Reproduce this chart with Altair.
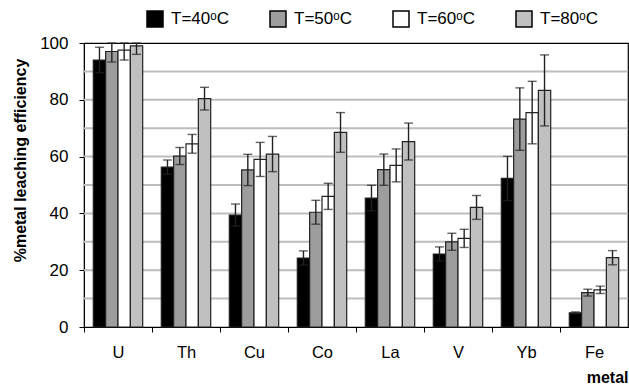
import altair as alt
import pandas as pd

metals = ["U", "Th", "Cu", "Co", "La", "V", "Yb", "Fe"]
temps = ["T=40ᵒC", "T=50ᵒC", "T=60ᵒC", "T=80ᵒC"]
colors = ["#000000", "#9d9d9d", "#ffffff", "#c0c0c0"]

t40 = [94.0, 56.3, 39.4, 24.3, 45.4, 25.7, 52.3, 5.0]
t50 = [97.0, 60.2, 55.3, 40.4, 55.4, 30.0, 73.2, 12.1]
t60 = [97.5, 64.5, 59.0, 46.0, 56.9, 31.2, 75.5, 13.1]
t80 = [99.0, 80.4, 60.9, 68.5, 65.3, 42.1, 83.3, 24.4]

e40 = [4.5, 2.5, 3.9, 2.5, 4.5, 2.5, 7.8, 0.3]
e50 = [3.7, 3.0, 5.5, 4.2, 5.5, 3.0, 11.0, 1.2]
e60 = [3.5, 3.3, 6.0, 4.6, 5.8, 3.2, 11.0, 1.3]
e80 = [3.0, 4.0, 6.2, 7.0, 6.5, 4.2, 12.5, 2.5]

grid_values = [10, 20, 30, 40, 50, 60, 70, 80, 90]
y_ticks = [0, 20, 40, 60, 80, 100]

rows = []
for t, vals, errs in zip(temps, [t40, t50, t60, t80], [e40, e50, e60, e80]):
    for m, v, e in zip(metals, vals, errs):
        rows.append({"metal": m, "temp": t, "value": v, "err": e})
df = pd.DataFrame(rows)

FONT = "Liberation Sans"

x_axis = alt.Axis(
    title="metal",
    labelAngle=0,
    labelFontSize=16.5,
    labelColor="#000",
    labelPadding=12,
    tickSize=5,
    tickColor="#000",
    tickOffset=-34,
    labelOffset=34,
    domainColor="#000",
    titleFontSize=16,
    titleFontWeight="bold",
    titleAnchor="end",
    titleAlign="right",
    titleX=544,
    titleY=55,
    titleBaseline="alphabetic",
    titleColor="#000",
)
y_axis = alt.Axis(
    values=y_ticks,
    grid=False,
    tickSize=5,
    tickColor="#000",
    domainColor="#000",
    labelFontSize=17,
    labelColor="#000",
    labelPadding=11,
    title="%metal leaching efficiency",
    titleFontSize=16,
    titleFontWeight="bold",
    titleColor="#000",
    titleAngle=-90,
    titleX=-64,
    titleY=117,
    titleAlign="center",
    titleBaseline="middle",
)

x_enc = alt.X("metal:N", sort=metals, scale=alt.Scale(paddingInner=0, paddingOuter=0), axis=x_axis)
xo_enc = alt.XOffset("temp:N", sort=temps, scale=alt.Scale(paddingInner=0, paddingOuter=0.753))
y_scale = alt.Scale(domain=[0, 100], nice=False)

grid = alt.Chart(pd.DataFrame({"g": grid_values})).mark_rule(
    color="#bdbdbd", strokeWidth=2
).encode(
    y=alt.Y("g:Q", scale=y_scale, axis=y_axis),
    x=alt.value(0),
    x2=alt.value(544),
)

bars = alt.Chart(df).mark_bar(stroke="#222222", strokeWidth=1.2).encode(
    x=x_enc,
    xOffset=xo_enc,
    y=alt.Y("value:Q", scale=y_scale, axis=y_axis),
    color=alt.Color(
        "temp:N",
        sort=temps,
        scale=alt.Scale(domain=temps, range=colors),
        legend=alt.Legend(
            orient="none",
            legendX=62,
            legendY=-33,
            direction="horizontal",
            title=None,
            symbolType="square",
            symbolSize=256,
            symbolStrokeColor="#000",
            symbolStrokeWidth=1.5,
            symbolOpacity=1,
            labelFontSize=17,
            labelColor="#000",
            labelOffset=7,
            columnPadding=38,
            padding=0,
        ),
    ),
)

err_base = alt.Chart(df).transform_calculate(
    lo="datum.value - datum.err",
    hi="min(datum.value + datum.err, 100)",
)

err_rule = err_base.mark_rule(color="#222222", strokeWidth=1.4).encode(
    x=alt.X("metal:N", sort=metals, axis=x_axis),
    xOffset=xo_enc,
    y=alt.Y("lo:Q", scale=y_scale, axis=y_axis),
    y2="hi:Q",
)
cap_hi = err_base.mark_tick(color="#222222", thickness=1.4, size=9).encode(
    x=alt.X("metal:N", sort=metals, axis=x_axis),
    xOffset=xo_enc,
    y=alt.Y("hi:Q", scale=y_scale, axis=y_axis),
)
cap_lo = err_base.mark_tick(color="#222222", thickness=1.4, size=9).encode(
    x=alt.X("metal:N", sort=metals, axis=x_axis),
    xOffset=xo_enc,
    y=alt.Y("lo:Q", scale=y_scale, axis=y_axis),
)

chart = (
    alt.layer(grid, bars, err_rule, cap_hi, cap_lo)
    .properties(
        width=544,
        height=284,
        autosize=alt.AutoSizeParams(type="none"),
        padding={"left": 84, "top": 43, "right": 1, "bottom": 57},
    )
    .configure(font=FONT)
    .configure_view(stroke="#000", strokeWidth=1.2)
)

chart.save("out.html", embed_options={"renderer": "svg", "actions": False})
